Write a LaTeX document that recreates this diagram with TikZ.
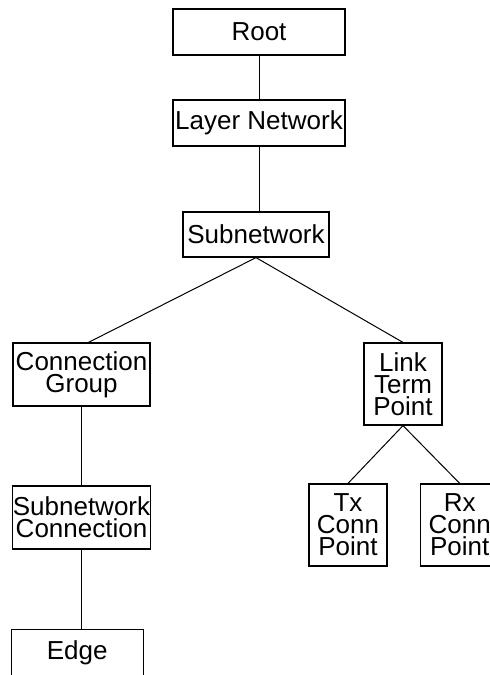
\documentclass[tikz,border=0pt]{standalone}
\usepackage{fontspec}
\setmainfont{Liberation Sans}
\begin{document}
\begin{tikzpicture}[x=1pt,y=-1pt,
  box/.style={draw,line width=1.2pt,inner sep=0pt,align=center,
    font={\fontsize{26}{22}\selectfont}},
  link/.style={line width=1pt}]
\useasboundingbox (0,0) rectangle (490,675);
\clip (0,0) rectangle (490,675);
\node[box,minimum width=172pt,minimum height=46pt] (root) at (259,32) {Root};
\node[box,minimum width=172pt,minimum height=46pt] (layer) at (259,123) {Layer Network};
\node[box,minimum width=146pt,minimum height=45pt] (sub) at (256,234.5) {Subnetwork};
\node[box,minimum width=137pt,minimum height=63pt] (cg) at (81.5,374.5) {Connection\\Group};
\node[box,minimum width=78pt,minimum height=82pt] (ltp) at (403,384) {Link\\Term\\Point};
\node[box,minimum width=78pt,minimum height=82pt] (tx) at (348,525) {Tx\\Conn\\Point};
\node[box,minimum width=78pt,minimum height=82pt] (rx) at (459.7,525) {Rx\\Conn\\Point};
\node[box,minimum width=137pt,minimum height=63pt] (snc) at (81.5,517.5) {Subnetwork\\Connection};
\node[box,minimum width=132pt,minimum height=46pt] (edge) at (77.2,652.3) {Edge};
\draw[link] (root.south) -- (layer.north);
\draw[link] (layer.south) -- (layer.south |- sub.north);
\draw[link] (sub.south) -- ([xshift=7pt]cg.north);
\draw[link] (sub.south) -- (ltp.north);
\draw[link] (cg.south) -- (snc.north);
\draw[link] (snc.south) -- (snc.south |- edge.north);
\draw[link] (ltp.south) -- (tx.north);
\draw[link] (ltp.south) -- (rx.north);
\end{tikzpicture}
\end{document}
